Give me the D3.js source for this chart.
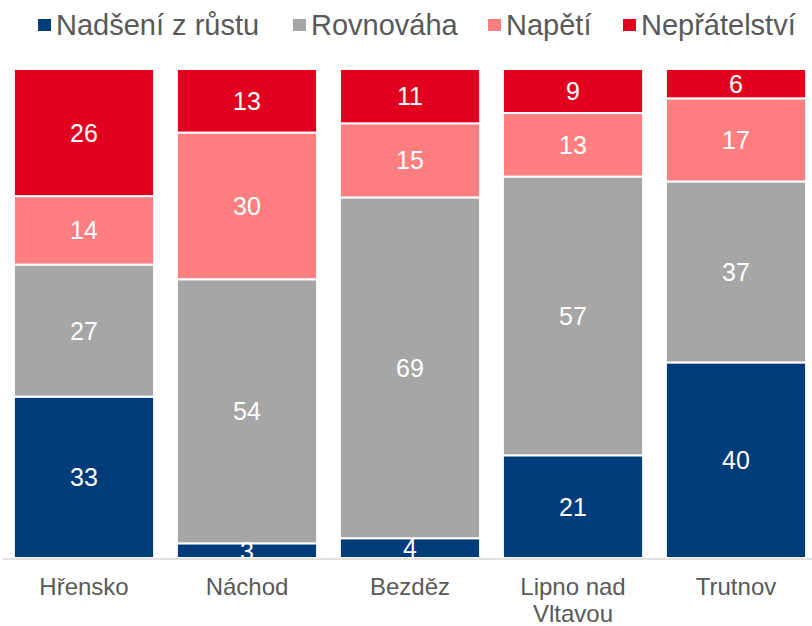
<!DOCTYPE html>
<html>
<head>
<meta charset="utf-8">
<script src="https://cdn.jsdelivr.net/npm/d3@7"></script>
<style>
  body { margin: 0; background: #fff; }
  svg { font-family: "Liberation Sans", Arial, sans-serif; }
</style>
</head>
<body>
<div id="chart"></div>
<script>
// data
var categories = ["Hřensko", "Náchod", "Bezděz", "Lipno nad Vltavou", "Trutnov"];
var seriesNames = ["Nadšení z růstu", "Rovnováha", "Napětí", "Nepřátelství"];
var nadseni = [33, 3, 4, 21, 40];
var rovnovaha = [27, 54, 69, 57, 37];
var napeti = [14, 30, 15, 13, 17];
var nepratelstvi = [26, 13, 11, 9, 6];
var colors = ["#003b7a", "#a6a6a6", "#ff7f80", "#e3001e"];

var svgWidth = 812;
var svgHeight = 626;

var rows = categories.map(function(c, i) {
    return {cat: c, s0: nadseni[i], s1: rovnovaha[i], s2: napeti[i], s3: nepratelstvi[i]};
});

var svg = d3.select("#chart")
    .append("svg")
    .attr("width", svgWidth)
    .attr("height", svgHeight);

var xScale = d3.scaleBand()
    .domain(categories)
    .range([2.5, 817.5])
    .paddingInner(0.14)
    .paddingOuter(0.07);

var yScale = d3.scaleLinear().domain([0, 1]).range([558, 69]);

var stack = d3.stack()
    .keys(["s0", "s1", "s2", "s3"])
    .offset(d3.stackOffsetExpand);
var stacked = stack(rows);

// bars
var groups = svg.append("g").selectAll("g")
    .data(stacked)
    .enter()
    .append("g")
    .attr("fill", function(d, i) { return colors[i]; });

groups.selectAll("rect")
    .data(function(d) { return d; })
    .enter()
    .append("rect")
    .attr("x", function(d) { return xScale(d.data.cat); })
    .attr("y", function(d) { return yScale(d[1]); })
    .attr("width", xScale.bandwidth())
    .attr("height", function(d) { return yScale(d[0]) - yScale(d[1]); })
    .attr("stroke", "#fff")
    .attr("stroke-width", 2);

// value labels
stacked.forEach(function(layer) {
    svg.append("g").selectAll("text")
        .data(layer)
        .enter()
        .append("text")
        .attr("x", function(d) { return xScale(d.data.cat) + xScale.bandwidth() / 2; })
        .attr("y", function(d) { return (yScale(d[0]) + yScale(d[1])) / 2; })
        .attr("dy", "0.36em")
        .attr("text-anchor", "middle")
        .attr("fill", "#fff")
        .style("font-size", "25px")
        .text(function(d) { return d.data[layer.key]; });
});

// baseline
svg.append("line")
    .attr("x1", 3).attr("x2", 812)
    .attr("y1", 559).attr("y2", 559)
    .attr("stroke", "#d9d9d9")
    .attr("stroke-width", 1.5);

// category labels
var catLabels = svg.append("g").selectAll("text")
    .data(categories)
    .enter()
    .append("text")
    .attr("text-anchor", "middle")
    .attr("fill", "#595959")
    .style("font-size", "24px")
    .attr("y", 595);

catLabels.each(function(c) {
    var t = d3.select(this);
    var lines = c === "Lipno nad Vltavou" ? ["Lipno nad", "Vltavou"] : [c];
    lines.forEach(function(line, j) {
        t.append("tspan")
            .attr("x", xScale(c) + xScale.bandwidth() / 2)
            .attr("dy", j === 0 ? 0 : 27)
            .text(line);
    });
});

// legend
var legendX = [38, 293, 488, 623];
var legend = svg.append("g").selectAll("g")
    .data(seriesNames)
    .enter()
    .append("g")
    .attr("transform", function(d, i) { return "translate(" + legendX[i] + ",0)"; });

legend.append("rect")
    .attr("x", 0).attr("y", 19)
    .attr("width", 13).attr("height", 12)
    .attr("fill", function(d, i) { return colors[i]; });

legend.append("text")
    .attr("x", 18)
    .attr("y", 35)
    .attr("fill", "#595959")
    .style("font-size", "29px")
    .text(function(d) { return d; });
</script>
</body>
</html>
